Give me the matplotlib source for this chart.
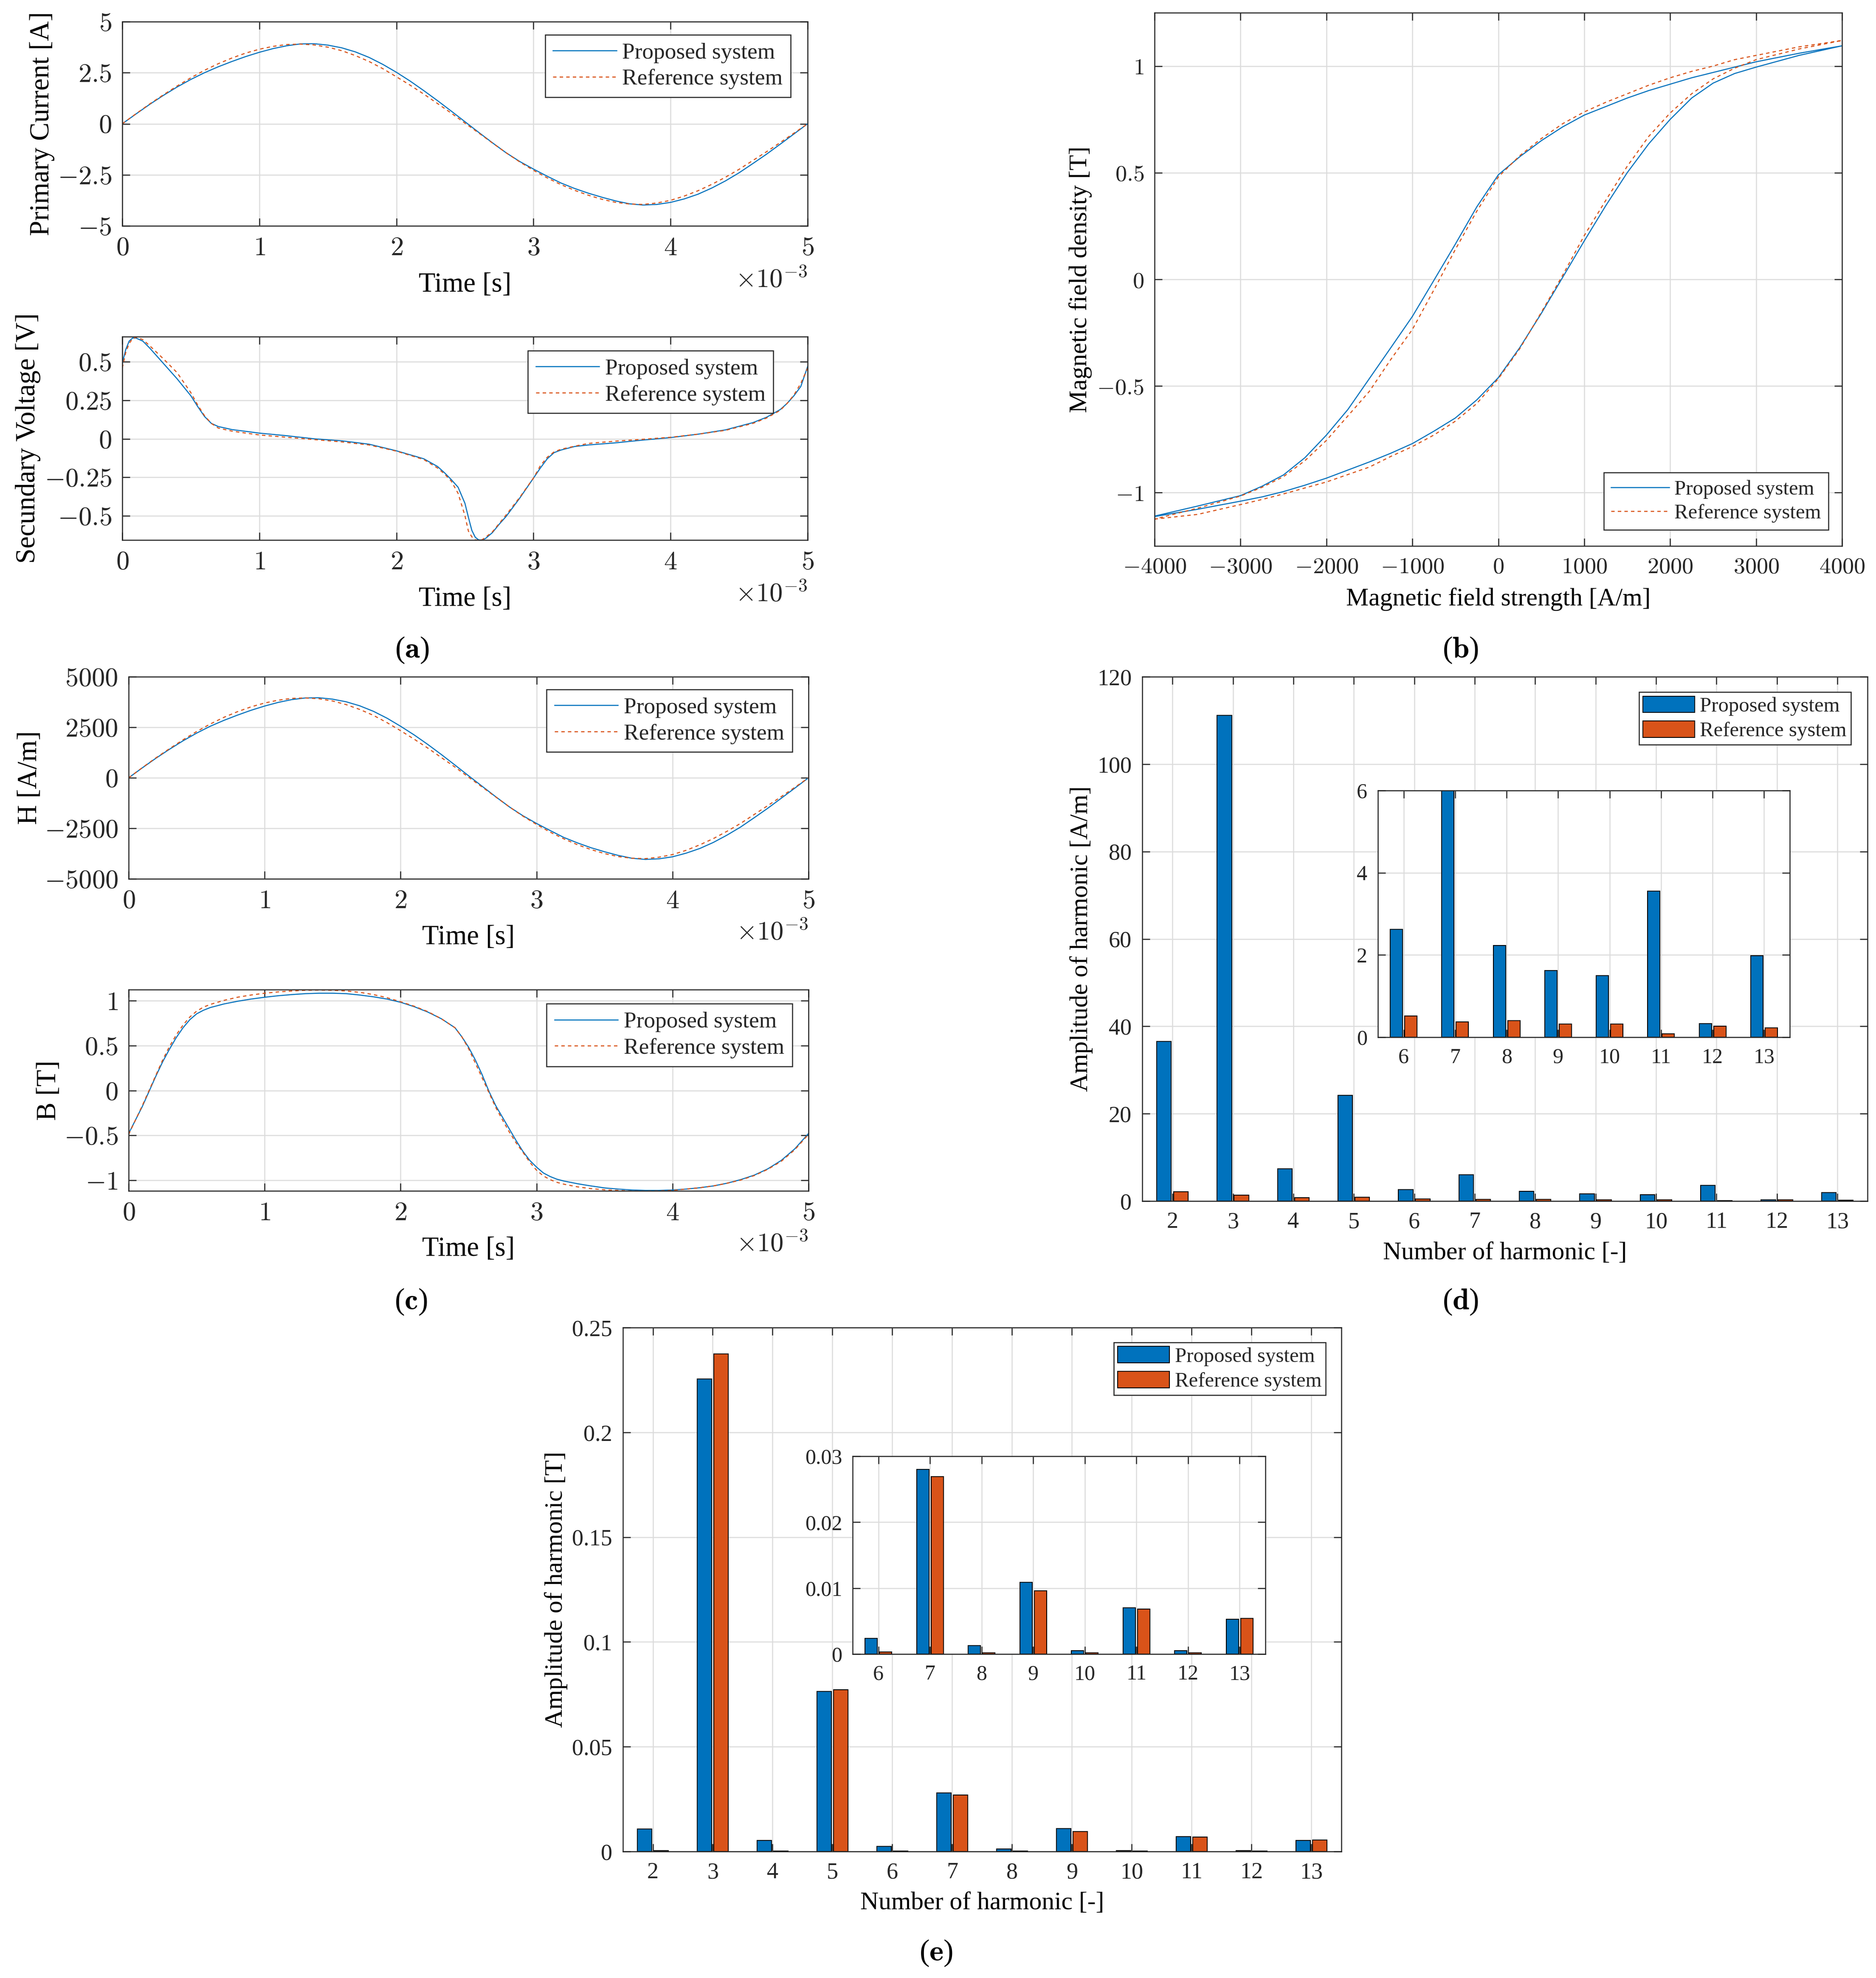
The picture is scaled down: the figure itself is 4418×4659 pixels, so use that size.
import matplotlib
matplotlib.use("Agg")
import matplotlib.pyplot as plt
from matplotlib.ticker import FuncFormatter

plt.rcParams['font.family'] = ['Liberation Serif', 'DejaVu Serif']
plt.rcParams['mathtext.fontset'] = 'cm'
plt.rcParams['text.color'] = '#262626'
plt.rcParams['axes.unicode_minus'] = True

BLUE = '#0072BD'
ORANGE = '#D95319'
DARK = '#262626'

# ---------------- data ----------------
# time in ms
t_cur = [0.0, 0.1, 0.2, 0.3, 0.4, 0.5, 0.6, 0.7, 0.8, 0.9, 1.0, 1.1, 1.2, 1.3, 1.4, 1.5,
         1.6, 1.7, 1.8, 1.9, 2.0, 2.1, 2.2, 2.3, 2.4, 2.5, 2.6, 2.7, 2.8, 2.9, 3.0, 3.1,
         3.2, 3.3, 3.4, 3.5, 3.6, 3.7, 3.8, 3.9, 4.0, 4.1, 4.2, 4.3, 4.4, 4.5, 4.6, 4.7,
         4.8, 4.9, 5.0]
cur_prop = [0.00, 0.48, 0.95, 1.39, 1.80, 2.17, 2.50, 2.79, 3.05, 3.29, 3.50, 3.68, 3.82,
            3.91, 3.92, 3.85, 3.72, 3.52, 3.25, 2.91, 2.52, 2.09, 1.62, 1.13, 0.62, 0.10,
            -0.42, -0.93, -1.42, -1.85, -2.22, -2.57, -2.90, -3.17, -3.40, -3.60, -3.78,
            -3.92, -3.98, -3.95, -3.85, -3.68, -3.45, -3.15, -2.80, -2.40, -1.95, -1.49,
            -1.00, -0.50, 0.00]
cur_ref = [0.00, 0.49, 0.97, 1.42, 1.85, 2.25, 2.62, 2.94, 3.22, 3.46, 3.65, 3.79, 3.88,
           3.90, 3.86, 3.75, 3.58, 3.34, 3.05, 2.70, 2.30, 1.89, 1.45, 0.99, 0.52, 0.03,
           -0.45, -0.94, -1.42, -1.87, -2.28, -2.65, -2.98, -3.26, -3.50, -3.70, -3.85,
           -3.93, -3.95, -3.88, -3.75, -3.54, -3.28, -2.97, -2.62, -2.23, -1.80, -1.37,
           -0.92, -0.46, 0.00]

t_volt = [0.0, 0.025, 0.05, 0.075, 0.1, 0.15, 0.2, 0.3, 0.4, 0.5, 0.55, 0.6, 0.65, 0.7,
          0.8, 1.0, 1.2, 1.4, 1.6, 1.8, 2.0, 2.2, 2.3, 2.35, 2.4, 2.45, 2.5, 2.525, 2.55,
          2.575, 2.6, 2.625, 2.65, 2.7, 2.75, 2.8, 2.9, 3.0, 3.05, 3.1, 3.15, 3.2, 3.3,
          3.4, 3.6, 3.8, 4.0, 4.2, 4.4, 4.6, 4.7, 4.8, 4.85, 4.9, 4.95, 5.0]
volt_prop = [0.49, 0.58, 0.635, 0.655, 0.655, 0.635, 0.59, 0.49, 0.39, 0.28, 0.21, 0.145,
             0.10, 0.08, 0.06, 0.037, 0.02, 0.0, -0.013, -0.035, -0.078, -0.13, -0.18,
             -0.22, -0.265, -0.315, -0.42, -0.51, -0.595, -0.64, -0.657, -0.658, -0.648,
             -0.61, -0.555, -0.505, -0.385, -0.255, -0.19, -0.13, -0.09, -0.073, -0.05,
             -0.04, -0.026, -0.008, 0.008, 0.03, 0.058, 0.105, 0.14, 0.19, 0.23, 0.28,
             0.34, 0.47]
volt_ref = [0.46, 0.56, 0.62, 0.65, 0.66, 0.645, 0.605, 0.52, 0.43, 0.30, 0.22, 0.15,
            0.10, 0.07, 0.05, 0.025, 0.01, -0.005, -0.02, -0.04, -0.08, -0.135, -0.19,
            -0.228, -0.275, -0.355, -0.50, -0.60, -0.637, -0.657, -0.659, -0.656, -0.64,
            -0.605, -0.55, -0.495, -0.38, -0.255, -0.175, -0.12, -0.085, -0.068, -0.048,
            -0.03, -0.015, -0.003, 0.01, 0.03, 0.055, 0.10, 0.135, 0.185, 0.23, 0.285,
            0.36, 0.46]

H_prop = [0, 490, 965, 1410, 1830, 2210, 2550, 2840, 3100, 3340, 3550, 3730, 3870, 3950,
          3960, 3890, 3760, 3560, 3290, 2950, 2550, 2120, 1650, 1150, 630, 100, -420,
          -940, -1440, -1880, -2260, -2610, -2950, -3220, -3460, -3660, -3840, -3980,
          -4040, -4010, -3910, -3730, -3500, -3200, -2840, -2440, -1980, -1510, -1010,
          -510, 0]
H_ref = [0, 500, 985, 1440, 1880, 2290, 2660, 2990, 3270, 3510, 3700, 3840, 3930, 3950,
         3910, 3800, 3620, 3380, 3090, 2730, 2330, 1910, 1470, 1000, 530, 30, -460, -950,
         -1440, -1900, -2310, -2690, -3020, -3310, -3550, -3750, -3900, -3980, -4000,
         -3930, -3800, -3590, -3320, -3010, -2650, -2260, -1820, -1380, -930, -470, 0]

t_B = [0.0, 0.05, 0.1, 0.15, 0.2, 0.25, 0.3, 0.35, 0.4, 0.45, 0.5, 0.55, 0.6, 0.7, 0.8,
       0.9, 1.0, 1.1, 1.2, 1.3, 1.4, 1.5, 1.6, 1.7, 1.8, 1.9, 2.0, 2.1, 2.2, 2.3, 2.4,
       2.45, 2.5, 2.55, 2.6, 2.65, 2.7, 2.75, 2.8, 2.85, 2.9, 2.95, 3.0, 3.05, 3.1, 3.15,
       3.2, 3.3, 3.4, 3.5, 3.6, 3.7, 3.8, 3.9, 4.0, 4.1, 4.2, 4.3, 4.4, 4.5, 4.6, 4.7,
       4.8, 4.9, 5.0]
B_prop = [-0.48, -0.33, -0.18, -0.01, 0.16, 0.32, 0.46, 0.59, 0.70, 0.79, 0.855, 0.895,
          0.925, 0.965, 0.995, 1.02, 1.04, 1.057, 1.07, 1.08, 1.085, 1.085, 1.08, 1.065,
          1.045, 1.02, 0.984, 0.935, 0.875, 0.80, 0.70, 0.60, 0.483, 0.34, 0.175, -0.01,
          -0.17, -0.30, -0.43, -0.56, -0.68, -0.78, -0.855, -0.92, -0.96, -0.99, -1.01,
          -1.04, -1.065, -1.087, -1.10, -1.11, -1.115, -1.115, -1.11, -1.10, -1.085,
          -1.065, -1.035, -0.995, -0.945, -0.875, -0.78, -0.65, -0.48]
B_ref = [-0.49, -0.33, -0.17, 0.0, 0.17, 0.34, 0.49, 0.62, 0.73, 0.82, 0.885, 0.93, 0.96,
         1.005, 1.04, 1.065, 1.085, 1.10, 1.11, 1.118, 1.12, 1.118, 1.11, 1.095, 1.07,
         1.035, 0.99, 0.94, 0.88, 0.80, 0.70, 0.60, 0.467, 0.305, 0.14, -0.025, -0.19,
         -0.33, -0.464, -0.585, -0.69, -0.80, -0.89, -0.953, -0.995, -1.025, -1.045,
         -1.075, -1.095, -1.108, -1.115, -1.122, -1.123, -1.12, -1.115, -1.10, -1.085,
         -1.065, -1.035, -1.0, -0.95, -0.88, -0.79, -0.66, -0.49]

# hysteresis loop (A/m, T): lower (rising) and upper (falling) branches
loop_H = [-4000, -3500, -3000, -2750, -2500, -2250, -2000, -1750, -1500, -1250, -1000,
          -750, -500, -250, 0, 250, 500, 750, 1000, 1250, 1500, 1750, 2000, 2250, 2500,
          2750, 3000, 3500, 4000]
loop_up_prop = [-1.112, -1.078, -1.04, -1.02, -0.995, -0.965, -0.932, -0.894, -0.856,
                -0.815, -0.77, -0.712, -0.65, -0.565, -0.461, -0.32, -0.16, 0.01, 0.18,
                0.345, 0.50, 0.635, 0.75, 0.85, 0.92, 0.965, 0.995, 1.05, 1.095]
loop_dn_prop = [-1.11, -1.063, -1.014, -0.97, -0.917, -0.836, -0.73, -0.61, -0.465, -0.32,
                -0.174, -0.005, 0.165, 0.34, 0.49, 0.575, 0.65, 0.715, 0.77, 0.81, 0.85,
                0.885, 0.915, 0.945, 0.97, 0.995, 1.02, 1.06, 1.095]
loop_up_ref = [-1.124, -1.102, -1.056, -1.032, -1.006, -0.978, -0.95, -0.915, -0.88,
               -0.83, -0.784, -0.73, -0.665, -0.582, -0.466, -0.325, -0.155, 0.02, 0.205,
               0.37, 0.53, 0.67, 0.78, 0.87, 0.94, 0.99, 1.03, 1.08, 1.12]
loop_dn_ref = [-1.124, -1.073, -1.016, -0.975, -0.925, -0.85, -0.755, -0.64, -0.525,
               -0.375, -0.235, -0.05, 0.14, 0.32, 0.48, 0.58, 0.66, 0.73, 0.785, 0.83, 0.87,
               0.91, 0.945, 0.975, 1.0, 1.03, 1.05, 1.09, 1.12]

harm = [2, 3, 4, 5, 6, 7, 8, 9, 10, 11, 12, 13]
Hh_prop = [36.5, 111.2, 7.4, 24.2, 2.62, 6.05, 2.23, 1.62, 1.5, 3.55, 0.33, 1.98]
Hh_ref = [2.15, 1.35, 0.8, 0.9, 0.52, 0.37, 0.4, 0.32, 0.32, 0.08, 0.27, 0.23]
Bh_prop = [0.0108, 0.2255, 0.0052, 0.0764, 0.0024, 0.0280, 0.0013, 0.0109, 0.0005, 0.0070,
           0.0005, 0.0053]
Bh_ref = [0.0005, 0.2375, 0.0003, 0.0772, 0.0003, 0.0269, 0.0002, 0.0096, 0.0002, 0.0068,
          0.0002, 0.0054]

# ---------------- figure ----------------
W, H = 4418, 4659
fig = plt.figure(figsize=(W / 300, H / 300), dpi=300)


def px_axes(x0, y0, x1, y1):
    return fig.add_axes([x0 / W, 1 - y1 / H, (x1 - x0) / W, (y1 - y0) / H])


def style(ax, size, cm=True):
    ax.tick_params(direction='in', top=True, right=True, length=4.3, width=0.6,
                   colors=DARK, labelsize=size, pad=6)
    for s in ax.spines.values():
        s.set_linewidth(0.6)
        s.set_color(DARK)
    ax.grid(True, color='#dcdcdc', lw=0.6)
    ax.set_axisbelow(True)
    if cm:
        fmt = FuncFormatter(lambda v, p: '$%g$' % v)
    else:
        fmt = FuncFormatter(lambda v, p: '%g' % v)
    ax.xaxis.set_major_formatter(fmt)
    ax.yaxis.set_major_formatter(fmt)


def labels(ax, xl, yl, xpos, ypos, size):
    ax.set_xlabel(xl, fontsize=size)
    ax.set_ylabel(yl, fontsize=size)
    ax.xaxis.set_label_coords(0.5, xpos)
    ax.yaxis.set_label_coords(ypos, 0.5)
    ax.xaxis.label.set_va('center')
    ax.yaxis.label.set_va('center')


def legend(ax, loc, anchor, size, patch=False):
    if patch:
        kw = dict(handlelength=2.5, handleheight=0.85, borderpad=0.2)
    else:
        kw = dict(handlelength=2.8, borderpad=0.35)
    leg = ax.legend(loc=loc, bbox_to_anchor=anchor, borderaxespad=0, fontsize=size,
                    fancybox=False, edgecolor=DARK, framealpha=1, handletextpad=0.25,
                    labelspacing=0.25, **kw)
    leg.get_frame().set_linewidth(0.6)


def time_plot(ax, t, yp, yr, ylab, ylim, yticks, ylab_x, leg_anchor):
    ax.plot(t, yp, color=BLUE, lw=0.6, label='Proposed system')
    ax.plot(t, yr, color=ORANGE, lw=0.6, ls=(0, (3.2, 3.0)), label='Reference system')
    ax.set_xlim(0, 5)
    ax.set_ylim(*ylim)
    ax.set_xticks([0, 1, 2, 3, 4, 5])
    ax.set_yticks(yticks)
    style(ax, 15)
    labels(ax, 'Time [s]', ylab, -0.29, ylab_x, 15.5)
    ax.text(1.0, -0.27, r'$\times 10^{-3}$', transform=ax.transAxes, ha='right',
            va='center', fontsize=15)
    legend(ax, 'upper right', leg_anchor, 12.8)


# (a)
ax = px_axes(288, 51, 1902, 532)
time_plot(ax, t_cur, cur_prop, cur_ref, 'Primary Current [A]', (-5, 5),
          [-5, -2.5, 0, 2.5, 5], -0.117, (0.975, 0.936))
ax = px_axes(288, 793, 1902, 1272)
time_plot(ax, t_volt, volt_prop, volt_ref, 'Secundary Voltage [V]', (-0.658, 0.664),
          [-0.5, -0.25, 0, 0.25, 0.5], -0.1375, (0.950, 0.931))

# (c)
ax = px_axes(303, 1594, 1904, 2070)
time_plot(ax, t_cur, H_prop, H_ref, 'H [A/m]', (-5000, 5000),
          [-5000, -2500, 0, 2500, 5000], -0.1455, (0.976, 0.937))
ax = px_axes(303, 2331, 1904, 2805)
time_plot(ax, t_B, B_prop, B_ref, 'B [T]', (-1.12, 1.125),
          [-1, -0.5, 0, 0.5, 1], -0.117, (0.976, 0.930))

# (b) hysteresis loop
ax = px_axes(2719, 30, 4338, 1286)
ax.plot(loop_H + loop_H[::-1], loop_up_prop + loop_dn_prop[::-1], color=BLUE, lw=0.6,
        label='Proposed system')
ax.plot(loop_H + loop_H[::-1], loop_up_ref + loop_dn_ref[::-1], color=ORANGE, lw=0.6,
        ls=(0, (3.2, 3.0)), label='Reference system')
ax.set_xlim(-4000, 4000)
ax.set_ylim(-1.25, 1.25)
ax.set_xticks(range(-4000, 4001, 1000))
ax.set_yticks([-1, -0.5, 0, 0.5, 1])
style(ax, 13)
labels(ax, 'Magnetic field strength [A/m]', 'Magnetic field density [T]', -0.100, -0.108, 14.3)
legend(ax, 'lower right', (0.980, 0.030), 11.7)


def bar_plot(ax, xs, yp, yr, size):
    ax.bar([x - 0.14 for x in xs], yp, width=0.24, color=BLUE, edgecolor='black', lw=0.5,
           label='Proposed system')
    ax.bar([x + 0.14 for x in xs], yr, width=0.24, color=ORANGE, edgecolor='black', lw=0.5,
           label='Reference system')
    ax.set_xticks(xs)
    style(ax, size, cm=False)


# (d) harmonics of H
ax = px_axes(2690, 1594, 4398, 2829)
bar_plot(ax, harm, Hh_prop, Hh_ref, 13)
ax.set_xlim(1.5, 13.5)
ax.set_ylim(0, 120)
ax.set_yticks(range(0, 121, 20))
labels(ax, 'Number of harmonic [-]', 'Amplitude of harmonic [A/m]', -0.100, -0.0843, 14.3)
legend(ax, 'upper right', (0.977, 0.971), 11.7, patch=True)
axi = px_axes(3245, 1862, 4215, 2443)
bar_plot(axi, harm[4:], Hh_prop[4:], Hh_ref[4:], 12)
axi.set_xlim(5.5, 13.5)
axi.set_ylim(0, 6)
axi.set_yticks([0, 2, 4, 6])

# (e) harmonics of B
ax = px_axes(1467, 3127, 3159, 4361)
bar_plot(ax, harm, Bh_prop, Bh_ref, 13)
ax.set_xlim(1.5, 13.5)
ax.set_ylim(0, 0.25)
ax.set_yticks([0, 0.05, 0.1, 0.15, 0.2, 0.25])
labels(ax, 'Number of harmonic [-]', 'Amplitude of harmonic [T]', -0.099, -0.0928, 14.3)
legend(ax, 'upper right', (0.978, 0.972), 11.7, patch=True)
axi = px_axes(2008, 3430, 2980, 3896)
bar_plot(axi, harm[4:], Bh_prop[4:], Bh_ref[4:], 12)
axi.set_xlim(5.5, 13.5)
axi.set_ylim(0, 0.03)
axi.set_yticks([0, 0.01, 0.02, 0.03])

# captions
for lab, x, y in [('a', 970, 1531), ('b', 3440, 1531), ('c', 968, 3066),
                  ('d', 3440, 3066), ('e', 2204, 4600)]:
    fig.text(x / W, 1 - y / H, r'($\mathbf{%s}$)' % lab, ha='center', va='center',
             fontsize=17, color='black')

fig.savefig('out.png', dpi=300, facecolor='white')
